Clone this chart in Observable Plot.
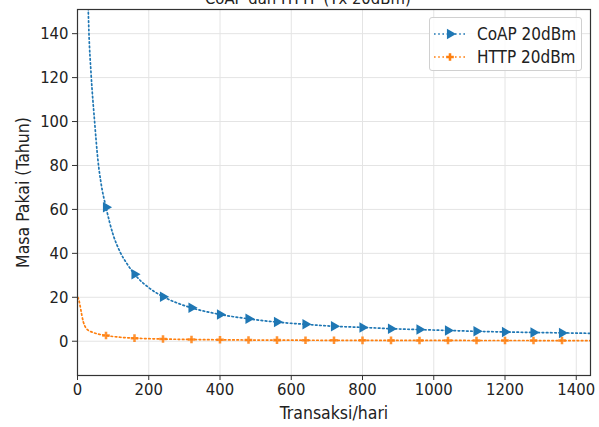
<!DOCTYPE html>
<html>
<head>
<meta charset="utf-8">
<script src="https://cdn.jsdelivr.net/npm/d3@7"></script>
<script src="https://cdn.jsdelivr.net/npm/@observablehq/plot@0.6"></script>
<style>
  html, body { margin: 0; padding: 0; background: #fff; overflow: hidden; }
  #wrap { position: relative; width: 599px; height: 427px; }
  #title { position: absolute; top: -11px; left: 205px; width: 200px; text-align: center;
           font-family: "DejaVu Sans Condensed", "DejaVu Sans", sans-serif; font-stretch: condensed;
           font-size: 16.5px; color: #222; white-space: nowrap; }
  #legend { position: absolute; left: 429px; top: 17px; width: 151px; height: 52px;
            border: 1px solid #d0d0d0; border-radius: 3px; background: rgba(255,255,255,0.85);
            font-family: "DejaVu Sans Condensed", "DejaVu Sans", sans-serif; font-stretch: condensed;
            font-size: 17px; color: #222; }
  .row { position: absolute; left: 0; height: 20px; display: flex; align-items: center; }
  .row svg { margin-left: 3px; }
  .row span { position: absolute; left: 47px; white-space: nowrap; }
</style>
</head>
<body>
<div id="wrap">
  <div id="chart"></div>
  <div id="title">CoAP dan HTTP (Tx 20dBm)</div>
  <div id="legend"></div>
</div>
<script>
// ---- data ----
const seriesNames = ["CoAP 20dBm", "HTTP 20dBm"];
const seriesColors = ["#1f77b4", "#ff7f0e"];
const xTicks = [0, 200, 400, 600, 800, 1000, 1200, 1400];
const yTicks = [0, 20, 40, 60, 80, 100, 120, 140];

// marker positions (every 80 transactions)
const markX = [80, 160, 240, 320, 400, 480, 560, 640, 720, 800, 880, 960, 1040, 1120, 1200, 1280, 1360];
const coapAtMarks = [61.0, 30.5, 20.3, 15.2, 12.2, 10.2, 8.7, 7.7, 6.8, 6.3, 5.7, 5.3, 4.9, 4.5, 4.2, 4.0, 3.8];
const httpAtMarks = [2.6, 1.4, 1.0, 0.8, 0.65, 0.55, 0.5, 0.45, 0.42, 0.4, 0.38, 0.36, 0.35, 0.34, 0.33, 0.32, 0.31];

// extra readings on the steep parts and the tail
const coapLineX = [28, 30, 32, 38, 48, 57, 66, 80, 100, 120, 140, 160, 200, 240, 280, 320, 400, 480, 560, 640, 720, 800, 880, 960, 1040, 1120, 1200, 1280, 1360, 1440];
const coapLineY = [165, 152, 141, 122, 100, 83, 72, 61.0, 48.5, 40.5, 35.0, 30.5, 24.4, 20.3, 17.4, 15.2, 12.2, 10.2, 8.7, 7.7, 6.8, 6.3, 5.7, 5.3, 4.9, 4.5, 4.2, 4.0, 3.8, 3.6];
const httpLineX = [1, 5, 8, 12, 16, 22, 30, 40, 55, 80, 120, 160, 240, 320, 400, 480, 560, 640, 720, 800, 880, 960, 1040, 1120, 1200, 1280, 1360, 1440];
const httpLineY = [20, 18, 15.5, 12, 9, 6.5, 5.0, 4.2, 3.4, 2.6, 1.8, 1.4, 1.0, 0.8, 0.65, 0.55, 0.5, 0.45, 0.42, 0.4, 0.38, 0.36, 0.35, 0.34, 0.33, 0.32, 0.31, 0.30];

const coapLine = coapLineX.map((x, i) => ({x, y: coapLineY[i]}));
const httpLine = httpLineX.map((x, i) => ({x, y: httpLineY[i]}));
const coapMarks = markX.map((x, i) => ({x, y: coapAtMarks[i]}));
const httpMarks = markX.map((x, i) => ({x, y: httpAtMarks[i]}));

const dash = "1.6,2.6";
const font = '"DejaVu Sans Condensed", "DejaVu Sans", sans-serif';

const chart = Plot.plot({
  width: 599,
  height: 427,
  marginLeft: 77,
  marginRight: 9,
  marginTop: 9,
  marginBottom: 52,
  style: {fontFamily: font, fontSize: "16.5px", color: "#222", background: "white", fontStretch: "condensed"},
  x: {domain: [0, 1440]},
  y: {domain: [-15.6, 151]},
  marks: [
    Plot.gridX(xTicks, {stroke: "#e4e4e4", strokeOpacity: 1, strokeWidth: 1}),
    Plot.gridY(yTicks, {stroke: "#e4e4e4", strokeOpacity: 1, strokeWidth: 1}),
    Plot.line(httpLine, {x: "x", y: "y", stroke: seriesColors[1], strokeWidth: 1.7, strokeDasharray: dash, curve: "monotone-x", clip: true}),
    Plot.line(coapLine, {x: "x", y: "y", stroke: seriesColors[0], strokeWidth: 1.7, strokeDasharray: dash, curve: "monotone-x", clip: true}),
    Plot.dot(httpMarks, {x: "x", y: "y", symbol: "cross", r: 3.2, fill: seriesColors[1], fillOpacity: 0.85, stroke: "none"}),
    Plot.dot(coapMarks, {x: "x", y: "y", symbol: "triangle", rotate: 90, r: 3.9, fill: seriesColors[0], stroke: "none"}),
    Plot.axisX(xTicks, {tickSize: 5, tickPadding: 3, stroke: "#333", tickFormat: d => String(d), label: null}),
    Plot.axisX({label: "Transaksi/hari", ticks: [], tickSize: 0, labelAnchor: "center", labelArrow: "none", labelOffset: 43, fontSize: 17.5}),
    Plot.axisY(yTicks, {tickSize: 5, tickPadding: 4, stroke: "#333", tickFormat: d => String(d), label: null}),
    Plot.axisY({label: "Masa Pakai (Tahun)", ticks: [], tickSize: 0, labelAnchor: "center", labelArrow: "none", labelOffset: 61, fontSize: 17.5}),
    Plot.frame({stroke: "#333", strokeWidth: 1.2})
  ]
});
document.getElementById("chart").appendChild(chart);

// legend
const legend = document.getElementById("legend");
seriesNames.forEach((name, i) => {
  const row = document.createElement("div");
  row.className = "row";
  row.style.top = (6 + i * 22.5) + "px";
  row.style.width = "151px";
  const svg = d3.create("svg").attr("width", 34).attr("height", 20);
  svg.append("line").attr("x1", 1).attr("x2", 33).attr("y1", 10).attr("y2", 10)
    .attr("stroke", seriesColors[i]).attr("stroke-width", 1.7).attr("stroke-dasharray", dash);
  const sym = i === 0 ? d3.symbolTriangle : d3.symbolCross;
  const size = i === 0 ? Math.PI * 3.9 * 3.9 : Math.PI * 3.2 * 3.2;
  svg.append("path").attr("d", d3.symbol(sym, size)())
    .attr("transform", `translate(17,10) rotate(${i === 0 ? 90 : 0})`)
    .attr("fill", seriesColors[i]);
  row.appendChild(svg.node());
  const span = document.createElement("span");
  span.textContent = name;
  row.appendChild(span);
  legend.appendChild(row);
});
</script>
</body>
</html>
